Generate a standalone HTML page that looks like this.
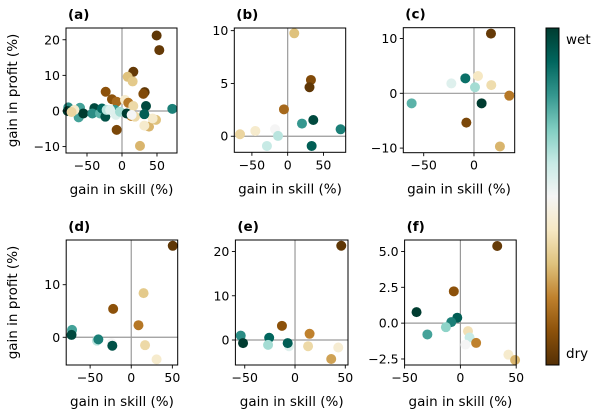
<!DOCTYPE html>
<html><head><meta charset="utf-8">
<style>
html,body{margin:0;padding:0;background:#fff;}
svg{display:block;font-family:"DejaVu Sans","Liberation Sans",sans-serif;}
</style></head>
<body>
<svg id="fig" width="600" height="415" viewBox="0 0 600 415" xmlns="http://www.w3.org/2000/svg">
<defs>
<linearGradient id="brbg" x1="0" y1="1" x2="0" y2="0">
<stop offset="0" stop-color="#543005"/><stop offset="0.1" stop-color="#8c510a"/><stop offset="0.2" stop-color="#bf812d"/><stop offset="0.3" stop-color="#dfc27d"/><stop offset="0.4" stop-color="#f6e8c3"/><stop offset="0.5" stop-color="#f5f5f5"/><stop offset="0.6" stop-color="#c7eae5"/><stop offset="0.7" stop-color="#80cdc1"/><stop offset="0.8" stop-color="#35978f"/><stop offset="0.9" stop-color="#01665e"/><stop offset="1" stop-color="#003c30"/>
</linearGradient>
</defs>
</svg>
<script>
// Data: each panel has x (gain in skill), y (gain in profit), c (wetness 0=dry..1=wet)
const aX=[49.5,53.3,16.2,8.1,15.2,32.4,30.5,-23.3,-14.3,-7.6,4.3,9,16.2,-7.6,25.7,38.6,31.9,48.6,43.8,13.3,18.6,34.3,31.9,71.9,-76.7,-77.6,-60,-61.9,-55.3,-39.5,-42.4,-31.4,-28.6,-23.8,-21.9,-10,-8.6,-2.9,6.7,13.8,-68,-72,-17];
const aY=[21.2,17.1,11,9.6,8.3,5.3,4.8,5.4,3.3,2.6,3.1,2.3,1.4,-5.3,-9.8,-4.4,-4.1,-2.5,-2.1,-1.4,-1.6,1.4,-0.9,0.6,1.0,0,0.9,-1.8,-0.7,0.8,-0.7,-0.7,0.7,-1.6,0.3,0.3,-1.1,-0.2,-0.7,-1.1,0.3,-0.3,0.3];
const aC=[0.02,0.03,0.03,0.3,0.32,0.02,0.08,0.1,0.1,0.15,0.42,0.18,0.36,0.07,0.28,0.28,0.42,0.3,0.42,0.2,0.36,0.97,0.92,0.85,0.82,1.0,0.78,0.78,1.0,0.97,0.82,0.75,0.9,0.95,0.62,0.8,0.55,0.65,1.0,0.5,0.42,0.35,0.55];
const bX=[9.2,32.5,30.5,-5.2,-66.6,-45.2,-17.7,-13.5,-29,20,35.8,74,33.5];
const bY=[9.75,5.33,4.64,2.55,0.19,0.5,0.66,0.03,-0.92,1.2,1.54,0.66,-0.92];
const bC=[0.3,0.08,0.02,0.15,0.35,0.42,0.5,0.62,0.6,0.8,0.97,0.85,0.92];
const cX=[16.9,-8.6,4,-22.5,1,17.2,35.1,-62,7.6,-7.6,25.8];
const cY=[10.9,2.73,3.16,1.8,1.1,1.5,-0.43,-1.83,-1.83,-5.35,-9.7];
const cC=[0.03,0.88,0.4,0.55,0.65,0.37,0.18,0.75,1.0,0.07,0.28];
const dX=[50.5,15,-22,8.8,16.8,30.8,-72,-72.6,-41.7,-24,-40,-23];
const dY=[17.4,8.4,5.4,2.3,-1.5,-4.2,1.4,0.45,-0.64,-1.1,-0.4,-1.6];
const dC=[0.02,0.32,0.1,0.18,0.36,0.42,0.78,0.97,0.62,0.5,0.85,0.95];
const eX=[46,-13,14.5,-54,-51.7,-25.7,-26.8,-6,-7.3,13,36,43];
const eY=[21.3,3.2,1.4,1.0,-0.7,0.5,-1.1,-1.4,-0.7,-1.4,-4.3,-1.7];
const eC=[0.02,0.1,0.2,0.82,1.0,0.9,0.65,0.55,0.92,0.36,0.25,0.43];
const fX=[33,-5.9,-39.3,-2.8,-8.2,-13,-29.6,6.8,8.2,4.5,14.1,43,49];
const fY=[5.38,2.22,0.77,0.38,0.07,-0.28,-0.79,-0.56,-1.0,-1.5,-1.38,-2.2,-2.57];
const fC=[0.03,0.1,1.0,0.92,0.85,0.68,0.78,0.38,0.6,0.5,0.2,0.42,0.28];
const xTicksA=[-50,0,50], yTicksA=[-10,0,10,20];
const xTicksB=[-50,0,50], yTicksB=[0,5,10];
const xTicksC=[-50,0], yTicksC=[-10,0,10];
const xTicksD=[-50,0,50], yTicksD=[0,10];
const xTicksE=[-50,0,50], yTicksE=[0,10,20];
const xTicksF=[-50,0,50], yTicksF=[-2.5,0,2.5,5.0];

const NS="http://www.w3.org/2000/svg";
const svg=document.getElementById('fig');
const stops=["#543005","#8c510a","#bf812d","#dfc27d","#f6e8c3","#f5f5f5","#c7eae5","#80cdc1","#35978f","#01665e","#003c30"];
function cmap(t){
  t=Math.max(0,Math.min(1,t))*10;const i=Math.min(9,Math.floor(t)),f=t-i;
  const h=s=>[1,3,5].map(k=>parseInt(s.substr(k,2),16));
  const a=h(stops[i]),b=h(stops[i+1]);
  return "rgb("+a.map((v,k)=>Math.round(v+(b[k]-v)*f)).join(",")+")";
}
function mk(tag,attrs,parent){const e=document.createElementNS(NS,tag);for(const k in attrs)e.setAttribute(k,attrs[k]);(parent||svg).appendChild(e);return e;}
function fmt(v,dec){const s=dec?v.toFixed(1):String(v);return s.replace('-','\u2212');}

function panel(cfg){
  const g=mk('g',{});
  
  
  const L=cfg.box[0],R=cfg.box[1],T=cfg.box[2],B=cfg.box[3];
  const sx=v=>L+(v-cfg.xlim[0])/(cfg.xlim[1]-cfg.xlim[0])*(R-L);
  const sy=v=>B-(v-cfg.ylim[0])/(cfg.ylim[1]-cfg.ylim[0])*(B-T);
  const v0=mk('line',{x1:sx(0),x2:sx(0),y1:T,y2:B,stroke:'#9a9a9a','stroke-width':1.2},g);
  
  const h0=mk('line',{x1:L,x2:R,y1:sy(0),y2:sy(0),stroke:'#9a9a9a','stroke-width':1.2},g);
  
  for(let i=0;i<cfg.x.length;i++){
    const c=mk('circle',{cx:sx(cfg.x[i]),cy:sy(cfg.y[i]),r:5,fill:cmap(cfg.c[i])},g);
    
    
  }
  const fr=mk('rect',{x:L,y:T,width:R-L,height:B-T,fill:'none',stroke:'#000','stroke-width':1},g);
  
  cfg.xt.forEach(v=>{
    const x=sx(v);
    mk('line',{x1:x,x2:x,y1:B,y2:B+3.5,stroke:'#000','stroke-width':0.9},g);
    const t=mk('text',{x:x,y:B+17,'font-size':12.5,'text-anchor':'middle',fill:'#000'},g);
    t.textContent=fmt(v,false);
    
  });
  cfg.yt.forEach(v=>{
    const y=sy(v);
    mk('line',{x1:L-3.5,x2:L,y1:y,y2:y,stroke:'#000','stroke-width':0.9},g);
    const t=mk('text',{x:L-6,y:y+4.5,'font-size':12.5,'text-anchor':'end',fill:'#000'},g);
    t.textContent=fmt(v,cfg.dec);
    
  });
  const xl=mk('text',{x:(L+R)/2,y:B+41,'font-size':13.5,'text-anchor':'middle',fill:'#000'},g);
  xl.textContent='gain in skill (%)';
  
  const tt=mk('text',{x:L+2,y:T-9,'font-size':13.5,'font-weight':'bold',fill:'#000'},g);
  tt.textContent='('+cfg.id+')';
  
  if(cfg.ylab){
    const cy=(T+B)/2;
    const yl=mk('text',{x:17,y:cy,'font-size':13.5,'text-anchor':'middle',fill:'#000',transform:'rotate(-90 17 '+cy+')'},g);
    yl.textContent='gain in profit (%)';
    
  }
}
panel({id:'a',box:[66,177,28,153],xlim:[-80,78.6],ylim:[-11.8,23.3],x:aX,y:aY,c:aC,xt:xTicksA,yt:yTicksA,ylab:true});
panel({id:'b',box:[234.3,345.7,28,152.3],xlim:[-74.6,81.1],ylim:[-1.52,10.25],x:bX,y:bY,c:bC,xt:xTicksB,yt:yTicksB});
panel({id:'c',box:[403.3,514.7,27.7,152.7],xlim:[-70.3,40.5],ylim:[-10.84,11.97],x:cX,y:cY,c:cC,xt:xTicksC,yt:yTicksC});
panel({id:'d',box:[66.2,177.7,240,365],xlim:[-79.1,56.5],ylim:[-5.27,18.5],x:dX,y:dY,c:dC,xt:xTicksD,yt:yTicksD,ylab:true});
panel({id:'e',box:[235.4,348,240,365],xlim:[-59.3,52.7],ylim:[-5.65,22.6],x:eX,y:eY,c:eC,xt:xTicksE,yt:yTicksE});
panel({id:'f',box:[404.6,516.2,240,365],xlim:[-50,50],ylim:[-2.92,5.8],x:fX,y:fY,c:fC,xt:xTicksF,yt:yTicksF,dec:true});

const cb=mk('rect',{x:546,y:28,width:13,height:337,fill:'url(#brbg)',stroke:'#000','stroke-width':1});


const wl=mk('text',{x:566,y:44,'font-size':13.5,fill:'#000'});
wl.textContent='wet';


const dl=mk('text',{x:566,y:358,'font-size':13.5,fill:'#000'});
dl.textContent='dry';


</script>
</body></html>
